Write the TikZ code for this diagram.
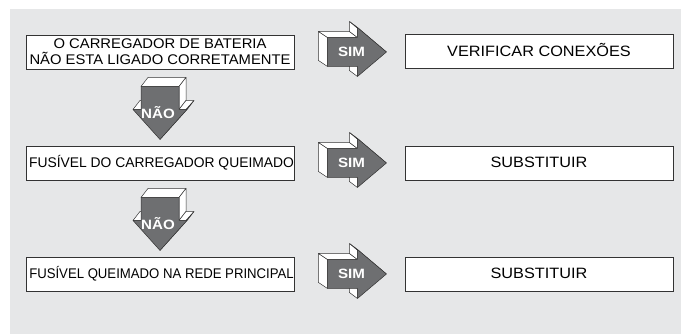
\documentclass[tikz,border=0pt]{standalone}
\usepackage{fontspec}
\usepackage{graphicx}
\newfontfamily\lab{Liberation Sans}[FakeStretch=1.12]
\newfontfamily\boxfont{Liberation Sans}
\newcommand{\xsq}[2]{\scalebox{#1}[1]{#2}}
\usetikzlibrary{calc}
\definecolor{bggray}{HTML}{E6E7E8}
\definecolor{arrgray}{HTML}{6E6F71}
\definecolor{edge}{HTML}{333333}
\tikzset{
 stepbox/.style={draw=edge, fill=white, line width=0.9pt, minimum width=268pt, minimum height=34pt, inner sep=0pt, font=\boxfont\fontsize{14}{16}\selectfont, align=center},
 oneline/.style={text height=10pt, text depth=0pt},
 bigtext/.style={font=\boxfont\fontsize{15}{16}\selectfont},
 face/.style={fill=white, draw=edge, line width=0.5pt, line join=round},
 front/.style={fill=arrgray, draw=edge, line width=0.5pt, line join=round},
 lbl/.style={text=white, font=\lab\bfseries\fontsize{13.5}{13}\selectfont, inner sep=0pt},
 simarrow/.pic={
   \draw[face] (0,-14.5) -- (0,14.5) -- (-9,8.5) -- (-9,-20.5) -- cycle;
   \draw[face] (0,-14.5) -- (30,-14.5) -- (22,-20.5) -- (-9,-20.5) -- cycle;
   \draw[face] (30,-14.5) -- (30,-24.5) -- (22,-30.5) -- (22,-20.5) -- cycle;
   \draw[face] (30,-24.5) -- (59,0) -- (51,-6) -- (22,-30.5) -- cycle;
   \draw[face] (30,14.5) -- (30,24.5) -- (22,18.5) -- (22,8.5) -- cycle;
   \draw[front] (0,-14.5) -- (30,-14.5) -- (30,-24.5) -- (59,0) -- (30,24.5) -- (30,14.5) -- (0,14.5) -- cycle;
   \node[lbl] (-sim) at (24,0) {SIM};
 },
 naoarrow/.pic={
   \draw[face] (-19,0) -- (19,0) -- (26,-9) -- (-12,-9) -- cycle;
   \draw[face] (19,0) -- (26,-9) -- (26,14) -- (19,23) -- cycle;
   \draw[face] (-27,23) -- (-19,23) -- (-12,14) -- (-20,14) -- cycle;
   \draw[face] (19,23) -- (27,23) -- (34,14) -- (26,14) -- cycle;
   \draw[face] (27,23) -- (0,53) -- (7,44) -- (34,14) -- cycle;
   \draw[front] (-19,0) -- (19,0) -- (19,23) -- (27,23) -- (0,53) -- (-27,23) -- (-19,23) -- cycle;
   \node[lbl] (-nao) at (-2,26) {NÃO};
 },
}
\begin{document}
\begin{tikzpicture}[x=1pt,y=-1pt]
\useasboundingbox (0,0) rectangle (681,334);
\fill[bggray] (10,9) rectangle (681,334);

\node[stepbox] (b1) at (160,52) {\xsq{1.058}{O CARREGADOR DE BATERIA}\\\xsq{1.057}{NÃO ESTA LIGADO CORRETAMENTE}};
\node[stepbox, oneline] (b2) at (160,163) {\hspace*{3pt}\xsq{0.99}{FUSÍVEL DO CARREGADOR QUEIMADO}};
\node[stepbox, oneline] (b3) at (160,274) {\hspace*{3pt}\xsq{0.94}{FUSÍVEL QUEIMADO NA REDE PRINCIPAL}};

\node[stepbox, bigtext, oneline] (r1) at (539,51.5) {\xsq{1.085}{VERIFICAR CONEXÕES}};
\node[stepbox, bigtext, oneline] (r2) at (539,163) {\xsq{1.085}{SUBSTITUIR}};
\node[stepbox, bigtext, oneline] (r3) at (539,274) {\xsq{1.085}{SUBSTITUIR}};

\pic (s1) at ($(b1.east)+(33,0)$) {simarrow};
\pic (s2) at ($(b2.east)+(33,0)$) {simarrow};
\pic (s3) at ($(b3.east)+(33,0)$) {simarrow};

\pic (n1) at ($(b1.south)+(0,17)$) {naoarrow};
\pic (n2) at ($(b2.south)+(0,17)$) {naoarrow};
\end{tikzpicture}
\end{document}
